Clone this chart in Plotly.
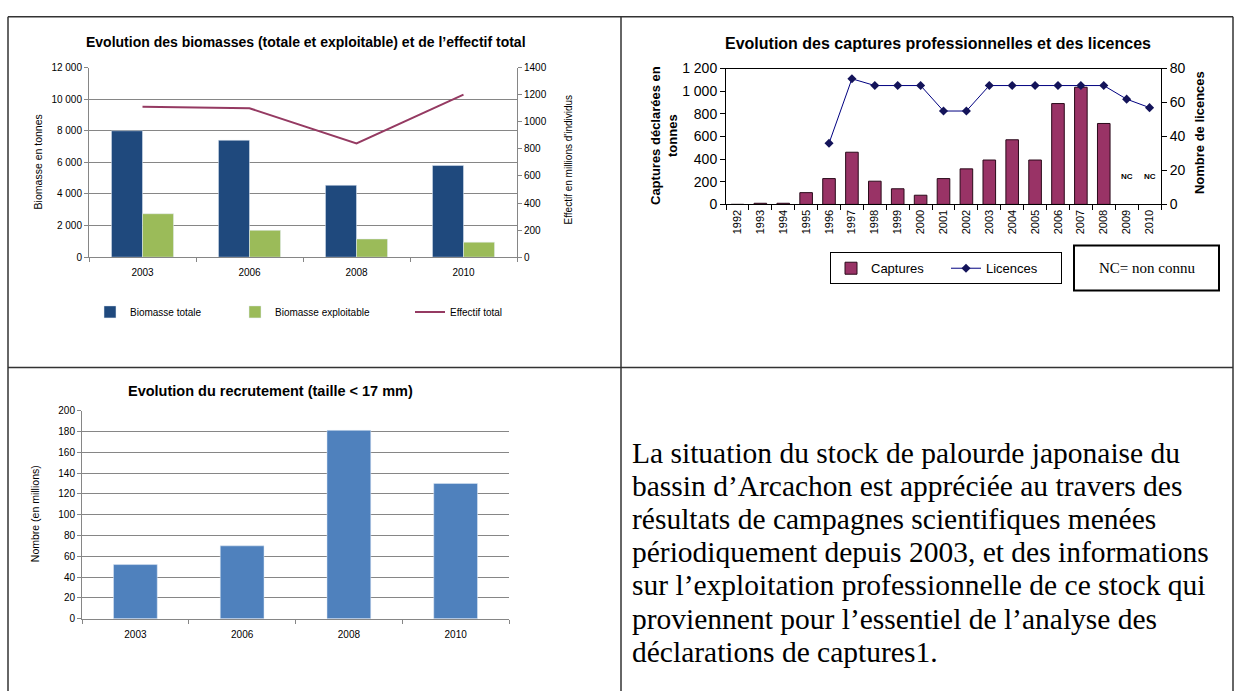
import plotly.graph_objects as go

W, H = 1243, 699

# ---------------- data ----------------
surv_years = ["2003", "2006", "2008", "2010"]
biomasse_totale = [8000, 7400, 4550, 5800]
biomasse_exploitable = [2750, 1700, 1150, 950]
effectif_total = [1110, 1100, 840, 1200]

capt_years = [str(y) for y in range(1992, 2011)]
captures = [0, 10, 10, 104, 228, 461, 205, 138, 81, 228, 314, 392, 571, 392, 891, 1035, 715, None, None]
licences = [None, None, None, None, 36, 74, 70, 70, 70, 55, 55, 70, 70, 70, 70, 70, 70, 62, 57]
nc_years = ["2009", "2010"]

recrutement = [52, 70, 181, 130]

paragraph = [
    "La situation du stock de palourde japonaise du",
    "bassin d\u2019Arcachon est appr\u00e9ci\u00e9e au travers des",
    "r\u00e9sultats de campagnes scientifiques men\u00e9es",
    "p\u00e9riodiquement depuis 2003, et des informations",
    "sur l\u2019exploitation professionnelle de ce stock qui",
    "proviennent pour l\u2019essentiel de l\u2019analyse des",
    "d\u00e9clarations de captures1.",
]

SANS = "Liberation Sans, Arial, sans-serif"
SERIF = "Liberation Serif, Times New Roman, serif"


def px(x):
    return x / W


def py(y):
    return 1 - y / H


fig = go.Figure()

# ---------- chart 1 ----------
fig.add_trace(go.Bar(x=surv_years, y=biomasse_totale, name="Biomasse totale",
                     marker_color="#1F497D", offset=-0.29, width=0.29,
                     xaxis="x", yaxis="y", legend="legend"))
fig.add_trace(go.Bar(x=surv_years, y=biomasse_exploitable, name="Biomasse exploitable",
                     marker_color="#9BBB59", offset=0.0, width=0.29,
                     xaxis="x", yaxis="y", legend="legend3"))
fig.add_trace(go.Scatter(x=surv_years, y=effectif_total, name="Effectif total",
                         mode="lines", line=dict(color="#953A62", width=2),
                         xaxis="x", yaxis="y2", legend="legend4"))

# ---------- chart 2 ----------
fig.add_trace(go.Bar(x=capt_years, y=captures, name="Captures",
                     marker=dict(color="#993366", line=dict(color="#2a0a1a", width=1)),
                     width=0.55, xaxis="x2", yaxis="y3", legend="legend2"))
fig.add_trace(go.Scatter(x=capt_years, y=licences, name="Licences",
                         mode="lines+markers",
                         line=dict(color="#000080", width=1),
                         marker=dict(symbol="diamond", size=7, color="#14145a"),
                         xaxis="x2", yaxis="y4", legend="legend2"))

# ---------- chart 3 ----------
fig.add_trace(go.Bar(x=surv_years, y=recrutement, name="Recrutement",
                     marker_color="#4F81BD", width=0.41, showlegend=False,
                     xaxis="x3", yaxis="y5"))

grey = "#868686"
ax_common = dict(showline=True, ticks="outside", ticklen=4, tickcolor=grey,
                 linecolor=grey, linewidth=1, zeroline=False)

leg1 = dict(orientation="h", yanchor="middle", xanchor="left", y=py(311),
            font=dict(size=10), bgcolor="rgba(0,0,0,0)")

fig.update_layout(
    width=W, height=H, margin=dict(l=0, r=0, t=0, b=0),
    paper_bgcolor="white", plot_bgcolor="rgba(0,0,0,0)",
    barmode="overlay", separators=", ",
    font=dict(family=SANS, color="#000000"),
    # chart 1
    xaxis=dict(domain=[px(89), px(517)], anchor="y", type="category",
               range=[-0.5, len(surv_years) - 0.5],
               tickson="boundaries", tickfont=dict(size=10), showgrid=False,
               ticklabelstandoff=6, **ax_common),
    yaxis=dict(domain=[py(255), py(61)], anchor="x", range=[0, 12000], dtick=2000,
               tickformat=",", showgrid=True, gridcolor=grey, gridwidth=1,
               tickfont=dict(size=10), **ax_common),
    yaxis2=dict(overlaying="y", side="right", anchor="x", range=[0, 1400], dtick=200,
                tickformat="d", showgrid=False, tickfont=dict(size=10), **ax_common),
    # chart 2
    xaxis2=dict(domain=[px(726), px(1161)], anchor="y3", type="category",
                range=[-0.5, len(capt_years) - 0.5],
                tickson="boundaries", tickangle=-90, tickfont=dict(size=11),
                showline=True, linecolor="#000", mirror=True, ticks="outside",
                ticklen=5, tickcolor="#000", showgrid=False, zeroline=False),
    yaxis3=dict(domain=[py(201), py(62)], anchor="x2", range=[0, 1200], dtick=200,
                tickformat=",", showline=True, linecolor="#000", ticks="outside",
                ticklen=5, tickcolor="#000", showgrid=False, zeroline=False,
                tickfont=dict(size=14)),
    yaxis4=dict(overlaying="y3", side="right", anchor="x2", range=[0, 80], dtick=20,
                showline=True, linecolor="#000", ticks="outside", ticklen=5,
                tickcolor="#000", showgrid=False, zeroline=False,
                tickfont=dict(size=14)),
    # chart 3
    xaxis3=dict(domain=[px(82), px(509)], anchor="y5", type="category",
                range=[-0.5, len(surv_years) - 0.5],
                tickson="boundaries", tickfont=dict(size=10), showgrid=False,
                ticklabelstandoff=6, **ax_common),
    yaxis5=dict(domain=[py(625), py(412)], anchor="x3", range=[0, 200], dtick=20,
                showgrid=True, gridcolor=grey, tickfont=dict(size=10), **ax_common),
    legend=dict(leg1, x=px(90)),
    legend3=dict(leg1, x=px(235)),
    legend4=dict(leg1, x=px(410)),
    legend2=dict(orientation="h", x=px(830), y=py(250), xanchor="left", yanchor="top",
                 font=dict(size=13), bordercolor="#000", borderwidth=1,
                 entrywidth=70, bgcolor="white"),
)

annotations = [
    dict(text="<b>Evolution des biomasses (totale et exploitable) et de l\u2019effectif total</b>",
         x=px(306), y=py(35), font=dict(size=14)),
    dict(text="Biomasse en tonnes", x=px(38), y=py(158), textangle=-90, font=dict(size=10.5)),
    dict(text="Effectif en millions d'individus", x=px(568), y=py(155), textangle=-90,
         font=dict(size=10)),
    dict(text="<b>Evolution des captures professionnelles et des licences</b>",
         x=px(938), y=py(36), font=dict(size=16)),
    dict(text="<b>Captures d\u00e9clar\u00e9es en<br>tonnes</b>", x=px(664), y=py(131),
         textangle=-90, font=dict(size=13)),
    dict(text="<b>Nombre de licences</b>", x=px(1199), y=py(128), textangle=-90,
         font=dict(size=13)),
    dict(text="NC= non connu", x=px(1147), y=py(266), font=dict(family=SERIF, size=15)),
    dict(text="<b>Evolution du recrutement (taille &lt; 17 mm)</b>",
         x=px(270), y=py(392), font=dict(size=14.5)),
    dict(text="Nombre (en millions)", x=px(35), y=py(518), textangle=-90, font=dict(size=10.5)),
]
for i, ln in enumerate(paragraph):
    annotations.append(dict(text=ln, x=px(630), y=py(455 + 34 * i), xanchor="left",
                            font=dict(family=SERIF, size=29.5)))
for a in annotations:
    a.setdefault("xref", "paper")
    a.setdefault("yref", "paper")
    a.setdefault("showarrow", False)
    a.setdefault("xanchor", "center")
    a.setdefault("yanchor", "middle")
    fig.add_annotation(**a)

# "NC" markers for the years without known catches (category index positions)
for yr in nc_years:
    fig.add_annotation(text="<b>NC</b>", x=capt_years.index(yr), y=250,
                       xref="x2", yref="y3", showarrow=False, font=dict(size=8))

# table borders and NC box
line = dict(color="#333333", width=1.5)
shapes = [
    dict(type="line", x0=px(8), x1=px(1233), y0=py(9), y1=py(9), line=line),
    dict(type="line", x0=px(8), x1=px(1233), y0=py(368), y1=py(368), line=line),
    dict(type="line", x0=px(8), x1=px(8), y0=py(9), y1=0, line=line),
    dict(type="line", x0=px(621), x1=px(621), y0=py(9), y1=0, line=line),
    dict(type="line", x0=px(1233), x1=px(1233), y0=py(9), y1=0, line=line),
    dict(type="rect", x0=px(1074), x1=px(1219), y0=py(289), y1=py(243),
         line=dict(color="#000", width=2)),
]
for s in shapes:
    s["xref"] = "paper"
    s["yref"] = "paper"
    fig.add_shape(**s)

fig.write_html("out.html", config={"displayModeBar": False},
               post_script="document.body.style.margin='0';")
